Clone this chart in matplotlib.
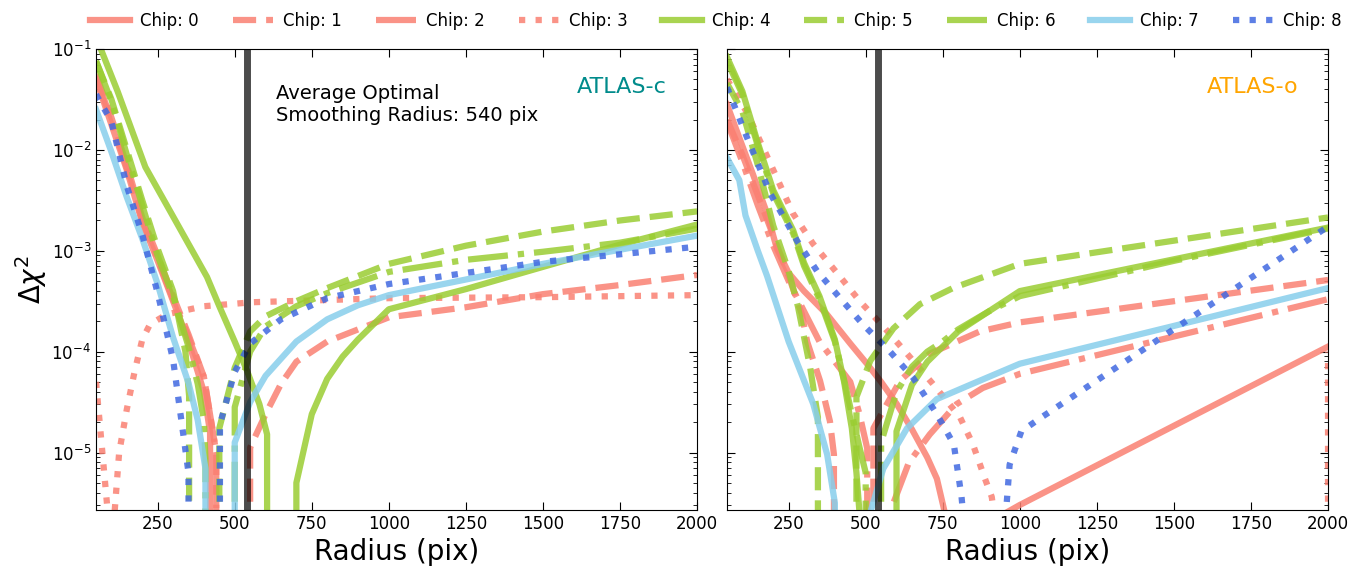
import numpy as np
import matplotlib
matplotlib.use("Agg")
import matplotlib.pyplot as plt

# ---------------- data (log10 of delta chi^2; None marks non-positive -> clipped) ----------------
CHIPS = ["Chip: 0", "Chip: 1", "Chip: 2", "Chip: 3", "Chip: 4",
         "Chip: 5", "Chip: 6", "Chip: 7", "Chip: 8"]
OPT_RADIUS = 540
XTICKS = [250, 500, 750, 1000, 1250, 1500, 1750, 2000]

# ATLAS-c (left panel)
c_r0 = [50, 100, 150, 200, 250, 300, 350, 400, 420, 425]
c_l0 = [-1.30, -1.75, -2.20, -2.72, -3.10, -3.50, -3.90, -4.40, -4.80, None]
c_r1 = [50, 100, 150, 200, 250, 300, 350, 400, 440, 450, 545, 550, 600, 650, 700, 800, 1000, 1250, 1500, 1750, 2000]
c_l1 = [-1.25, -1.68, -2.15, -2.67, -3.05, -3.45, -3.83, -4.25, -5.00, None, None, -4.95, -4.62, -4.32, -4.10, -3.90, -3.66, -3.56, -3.43, -3.34, -3.24]
c_r2 = [50, 100, 150, 200, 250, 300, 350, 400, 440, 450]
c_l2 = [-1.28, -1.70, -2.18, -2.70, -3.08, -3.48, -3.86, -4.25, -5.00, None]
c_r3 = [50, 100, 125, 150, 175, 200, 225, 280, 400, 560, 1000, 1500, 2000]
c_l3 = [-4.30, -6.00, -5.00, -4.57, -4.20, -3.88, -3.73, -3.63, -3.55, -3.51, -3.47, -3.46, -3.44]
c_r4 = [50, 120, 210, 300, 410, 450, 500, 540, 580, 605, 650, 700, 750, 800, 850, 900, 1000, 1250, 1500, 1750, 2000]
c_l4 = [-0.88, -1.42, -2.17, -2.66, -3.26, -3.55, -3.90, -4.19, -4.52, -4.82, None, -5.30, -4.62, -4.27, -4.05, -3.88, -3.58, -3.38, -3.16, -2.94, -2.74]
c_r5 = [50, 100, 150, 200, 250, 300, 340, 352, 360, 445, 450, 500, 550, 600, 700, 800, 1000, 1250, 1500, 1750, 2000]
c_l5 = [-1.12, -1.50, -2.00, -2.50, -2.98, -3.40, -4.00, -4.44, None, None, -4.76, -4.16, -3.80, -3.65, -3.50, -3.37, -3.13, -2.95, -2.81, -2.70, -2.61]
c_r6 = [50, 100, 150, 200, 250, 300, 350, 380, 400, 405, 410, 495, 500, 550, 600, 700, 800, 1000, 1250, 1500, 1750, 2000]
c_l6 = [-1.12, -1.52, -2.05, -2.55, -3.05, -3.45, -3.95, -4.32, -4.69, -5.06, None, None, -4.55, -4.00, -3.75, -3.55, -3.42, -3.21, -3.09, -3.01, -2.92, -2.78]
c_r7 = [50, 100, 150, 200, 250, 300, 350, 380, 405, 450, 500, 550, 600, 700, 800, 900, 1000, 1500, 2000]
c_l7 = [-1.60, -2.02, -2.47, -2.88, -3.33, -3.86, -4.31, -4.68, -5.16, None, -4.90, -4.50, -4.24, -3.90, -3.68, -3.54, -3.44, -3.13, -2.85]
c_r8 = [50, 100, 150, 200, 250, 300, 350, 360, 445, 452, 500, 550, 650, 800, 1000, 1500, 2000]
c_l8 = [-1.45, -1.72, -2.36, -2.84, -3.42, -4.08, -5.20, None, None, -4.72, -4.20, -3.92, -3.68, -3.47, -3.33, -3.11, -2.96]

# ATLAS-o (right panel)
o_r0 = [50, 90, 134, 180, 212, 250, 300, 374, 450, 504, 550, 601, 650, 700, 731, 780, 1000, 2000]
o_l0 = [-1.55, -1.88, -2.24, -2.63, -2.98, -3.22, -3.40, -3.63, -3.92, -4.12, -4.30, -4.52, -4.77, -5.05, -5.26, -5.90, -5.52, -3.95]
o_r1 = [50, 100, 150, 200, 250, 293, 310, 352, 384, 397, 400, 520, 525, 611, 708, 870, 1000, 2000]
o_l1 = [-1.70, -2.05, -2.45, -2.85, -3.25, -3.63, -3.90, -4.29, -4.69, -5.02, None, None, -4.76, -4.29, -4.02, -3.80, -3.71, -3.29]
o_r2 = [50, 100, 150, 200, 250, 300, 350, 400, 450, 480, 505, 510, 585, 590, 640, 708, 795, 880, 1000, 2000]
o_l2 = [-1.72, -2.12, -2.55, -2.95, -3.30, -3.60, -3.90, -4.10, -4.30, -4.62, -4.96, None, None, -5.50, -5.10, -4.82, -4.52, -4.36, -4.22, -3.48]
o_r3 = [50, 115, 190, 264, 329, 407, 481, 557, 634, 718, 806, 848, 887, 909, 925, 1990, 2000]
o_l3 = [-1.30, -1.63, -2.13, -2.63, -2.93, -3.22, -3.50, -3.75, -4.02, -4.32, -4.65, -4.92, -5.26, -5.44, -5.80, None, -4.00]
o_r4 = [50, 100, 150, 200, 265, 300, 350, 400, 430, 455, 470, 480, 490, 595, 600, 650, 700, 750, 800, 900, 1000, 2000]
o_l4 = [-1.08, -1.42, -1.93, -2.40, -2.80, -3.12, -3.45, -3.88, -4.30, -4.76, -5.20, -5.60, None, None, -4.79, -4.33, -4.10, -3.95, -3.80, -3.60, -3.40, -2.77]
o_r5 = [50, 100, 150, 200, 250, 280, 320, 345, 350, 465, 470, 515, 590, 676, 783, 1000, 1500, 2000]
o_l5 = [-1.34, -1.62, -2.15, -2.75, -3.20, -3.55, -4.16, -4.65, None, None, -4.45, -4.09, -3.77, -3.53, -3.37, -3.13, -2.90, -2.67]
o_r6 = [50, 100, 150, 200, 265, 300, 350, 400, 430, 455, 480, 500, 505, 545, 550, 600, 650, 700, 750, 800, 900, 1000, 1500, 2000]
o_l6 = [-1.12, -1.45, -1.96, -2.43, -2.83, -3.15, -3.48, -3.90, -4.28, -4.62, -4.95, -5.20, None, None, -4.90, -4.40, -4.15, -4.00, -3.90, -3.78, -3.60, -3.45, -3.10, -2.78]
o_r7 = [50, 90, 110, 150, 180, 250, 330, 375, 400, 405, 495, 500, 557, 634, 731, 838, 1000, 2000]
o_l7 = [-2.08, -2.30, -2.65, -3.00, -3.25, -3.90, -4.52, -5.02, -5.50, None, None, -5.75, -5.16, -4.76, -4.47, -4.33, -4.12, -3.37]
o_r8 = [50, 118, 190, 277, 342, 417, 491, 579, 654, 731, 786, 811, 825, 940, 967, 1005, 1066, 2000]
o_l8 = [-1.38, -1.90, -2.43, -2.90, -3.20, -3.47, -3.73, -4.00, -4.26, -4.62, -4.92, -5.44, -5.90, -6.20, -5.12, -4.79, -4.66, -2.76]

# ---------------- styling ----------------
COLORS = ["salmon", "salmon", "salmon", "salmon", "yellowgreen",
          "yellowgreen", "yellowgreen", "skyblue", "royalblue"]
STYLES = ["-", "--", "-.", ":", "-", "--", "-.", "-", ":"]
LW = 4.5
ALPHA = 0.85


def to_values(logs):
    return np.array([0.0 if v is None else 10.0 ** v for v in logs])


left_data = [(c_r0, c_l0), (c_r1, c_l1), (c_r2, c_l2), (c_r3, c_l3), (c_r4, c_l4),
             (c_r5, c_l5), (c_r6, c_l6), (c_r7, c_l7), (c_r8, c_l8)]
right_data = [(o_r0, o_l0), (o_r1, o_l1), (o_r2, o_l2), (o_r3, o_l3), (o_r4, o_l4),
              (o_r5, o_l5), (o_r6, o_l6), (o_r7, o_l7), (o_r8, o_l8)]

fig = plt.figure(figsize=(13.66, 5.67), dpi=100)
ax1 = fig.add_axes([0.0703, 0.1005, 0.440, 0.8131])
ax2 = fig.add_axes([0.5322, 0.1005, 0.440, 0.8131])

for ax, data in ((ax1, left_data), (ax2, right_data)):
    ax.set_yscale("log", nonpositive="clip")
    for i, (r, l) in enumerate(data):
        ax.plot(r, to_values(l), color=COLORS[i], ls=STYLES[i], lw=LW,
                alpha=ALPHA, label=CHIPS[i])
    ax.axvline(OPT_RADIUS, color="black", alpha=0.7, lw=5)
    ax.set_xlim(50, 2000)
    ax.set_ylim(10 ** -5.57, 1e-1)
    ax.set_xticks(XTICKS)
    ax.set_xticklabels([str(t) for t in XTICKS])
    ax.tick_params(which="both", direction="in", top=True, right=True,
                   labelsize=12)
    ax.tick_params(which="major", length=6)
    ax.tick_params(which="minor", length=3)
    ax.set_xlabel("Radius (pix)", fontsize=20, labelpad=4)

ax2.tick_params(axis="y", which="both", labelleft=False)
ax1.set_ylabel(r"$\Delta\chi^2$", fontsize=20, labelpad=2)

ax1.text(0.30, 0.925, "Average Optimal\nSmoothing Radius: 540 pix",
         transform=ax1.transAxes, fontsize=14, va="top", ha="left",
         linespacing=1.2)
ax1.text(0.95, 0.94, "ATLAS-c", transform=ax1.transAxes, fontsize=16,
         color="darkcyan", ha="right", va="top")
ax2.text(0.95, 0.94, "ATLAS-o", transform=ax2.transAxes, fontsize=16,
         color="orange", ha="right", va="top")

handles, labels = ax1.get_legend_handles_labels()
fig.legend(handles, labels, loc="upper center", bbox_to_anchor=(0.524, 1.005),
           ncol=9, frameon=False, fontsize=12, handlelength=2.4,
           handletextpad=0.6, columnspacing=2.05)

fig.savefig("out.png", dpi=100)
